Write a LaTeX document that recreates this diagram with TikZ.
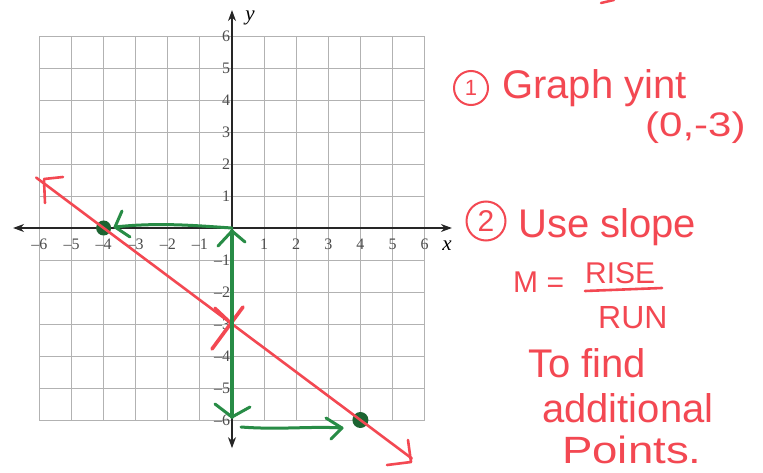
\documentclass[tikz,border=0pt]{standalone}
\usepackage{fontspec}
\setmainfont{Liberation Serif}
\newfontfamily\hand{Liberation Sans}
\usetikzlibrary{arrows.meta}
\definecolor{hred}{RGB}{243,72,82}
\definecolor{hgreen}{RGB}{40,140,70}
\definecolor{dgreen}{RGB}{28,100,50}
\definecolor{gridgray}{RGB}{178,178,178}
\begin{document}
\begin{tikzpicture}[x=1pt,y=-1pt,
  gridline/.style={gridgray, line width=0.9pt},
  axisline/.style={black!85, line width=1.4pt, {Stealth[length=11pt,width=8pt]}-{Stealth[length=11pt,width=8pt]}},
  ticklab/.style={font=\fontsize{16}{16}\selectfont, text=black!70, inner sep=0pt},
  redpen/.style={hred, line width=2.6pt, line cap=round, line join=round},
  greenpen/.style={hgreen, line width=3pt, line cap=round, line join=round},
  handtext/.style={hred, inner sep=0pt, anchor=base west, font=\hand\fontsize{40}{40}\selectfont},
  numcircle/.style={draw=hred, line width=2pt, circle, inner sep=0pt, text=hred},
]
\useasboundingbox (0,0) rectangle (763,473);
\fill[white] (0,0) rectangle (763,473);
\begin{scope}[shift={(232,228)}, x=32.1pt, y=32pt]
  \foreach \i in {-6,...,6} {
    \draw[gridline] (\i,-6) -- (\i,6);
    \draw[gridline] (-6,\i) -- (6,\i);
  }
  \coordinate (xl) at (-6.82,0);
  \coordinate (xr) at (6.85,0);
  \coordinate (yb) at (0,-6.88);
  \coordinate (yt) at (0,6.81);
  \draw[axisline] (xl) -- (xr);
  \draw[axisline] (yb) -- (yt);
  \foreach \i in {1,...,6} {
    \node[ticklab, anchor=base] at (\i,-0.66) {\i};
    \node[ticklab, anchor=base] at (-\i,-0.66) {–\i};
    \node[ticklab, anchor=east] at (-0.05,\i) {\i};
    \node[ticklab, anchor=east] at (-0.05,-\i) {–\i};
  }
  \coordinate (O) at (0,0);
  \coordinate (A) at (-4,0);
  \coordinate (Yi) at (0,-3);
  \coordinate (B) at (0,-6);
  \coordinate (C) at (4,-6);
  \coordinate (L1) at (-6.1,1.575);
  \coordinate (L2) at (5.6,-7.2);
\end{scope}
\node[font=\itshape\fontsize{21}{21}\selectfont, inner sep=0pt] (xlab) at (447,246) {x};
\node[font=\itshape\fontsize{21}{21}\selectfont, inner sep=0pt] (ylab) at (250,18) {y};

% green dots
\fill[dgreen] (A) circle (7.5pt);
\fill[dgreen] (C) circle (8pt);

% red line
\draw[redpen, line width=2.6pt] (L1) -- (L2);
\draw[redpen] (45,203) -- (44,180);
\draw[redpen] (44,179) -- (63,177);
\draw[redpen] (408,440) -- (411,462);
\draw[redpen] (387,465) -- (411,462);
% red X at y-intercept
\draw[redpen, line width=3.6pt] (212,349) -- (243,307);
\draw[redpen, line width=3pt] (215,308) -- (Yi);

% green run to the left
\coordinate (gA) at (115,227);
\draw[greenpen] (O) .. controls (200,226) and (160,222) .. (gA);
\draw[greenpen] (122,211) -- (gA) -- (130,237);
% green vertical
\coordinate (gT) at (232,231);
\coordinate (gB) at (232,417);
\draw[greenpen, line width=3.6pt] (gT) -- (gB);
\draw[greenpen] (218,246) -- (gT) -- (245,242);
\draw[greenpen] (215,404) -- (gB) -- (250,407);
% green run to the right
\coordinate (gR0) at (241,427);
\coordinate (gR1) at (342,428);
\draw[greenpen] (gR0) .. controls (280,430) and (310,426) .. (gR1);
\draw[greenpen] (326,418) -- (gR1) -- (331,439);

% notes
\draw[hred, line width=2.5pt, line cap=round] (601,3) -- (614,0);
\node[numcircle, minimum size=34pt, font=\hand\fontsize{22}{22}\selectfont] (c1) at (471,88) {1};
\node[handtext] (t1) at (502,99) {Graph yint};
\node[handtext] (t2) at (645,137) {\scalebox{1.05}[0.85]{(0,-3)}};
\node[numcircle, minimum size=39pt, font=\hand\fontsize{30}{30}\selectfont] (c2) at (486,221) {2};
\node[handtext] (t3) at (518,237) {Use slope};
\node[handtext, font=\hand\fontsize{30}{30}\selectfont] (t4) at (513,292) {M =};
\node[handtext, font=\hand\fontsize{30}{30}\selectfont] (t5) at (585,283) {RISE};
\draw[redpen] (585,291) -- (662,288);
\node[handtext, font=\hand\fontsize{32}{32}\selectfont] (t6) at (598,328) {RUN};
\node[handtext] (t7) at (528,377) {To find};
\node[handtext] (t8) at (542,422) {additional};
\node[handtext, font=\hand\fontsize{38}{38}\selectfont] (t9) at (562,463) {\scalebox{1.2}[1]{Points.}};
\end{tikzpicture}
\end{document}
